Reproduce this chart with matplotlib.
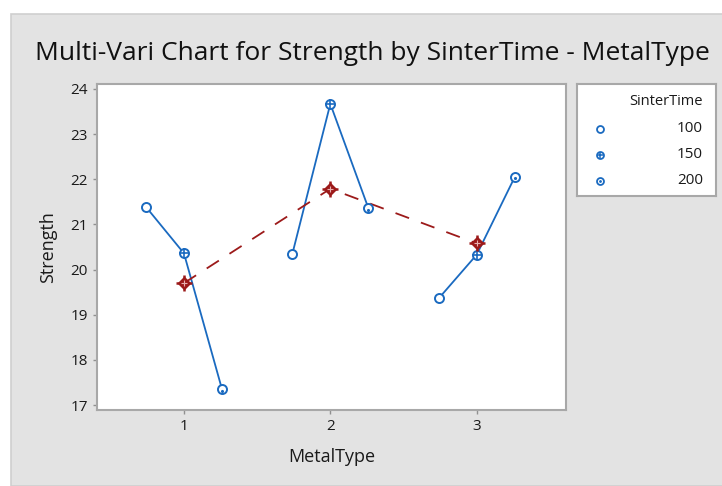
import matplotlib.pyplot as plt
from matplotlib.patches import Rectangle

# --- data ---
metal_types = [1, 2, 3]
sinter_times = [100, 150, 200]
strength = {
    100: [21.39, 20.34, 19.36],
    150: [20.36, 23.67, 20.33],
    200: [17.35, 21.36, 22.05],
}
offsets = [-0.26, 0.0, 0.26]
yticks = [17, 18, 19, 20, 21, 22, 23, 24]

blue = '#1a6ac0'
red = '#9c1a1a'
gray_bg = '#e3e3e3'
font = ['Open Sans', 'DejaVu Sans']

W, H = 722, 486
fig = plt.figure(figsize=(W / 100, H / 100), dpi=100, facecolor='white')

# gray panel
fig.patches.append(Rectangle((11 / W, 0), 1, 1 - 14 / H, transform=fig.transFigure,
                             facecolor=gray_bg, edgecolor='#cfcfcf', lw=1.2, zorder=-10))

def box(x0, y0, x1, y1):
    return [x0 / W, 1 - y1 / H, (x1 - x0) / W, (y1 - y0) / H]

ax = fig.add_axes(box(97, 84, 566, 410))
ax.set_zorder(2)
ax.set_facecolor('white')

means = []
for i, m in enumerate(metal_types):
    vals = [strength[s][i] for s in sinter_times]
    xs = [m + o for o in offsets]
    ax.plot(xs, vals, color=blue, lw=1.3, zorder=2)
    ax.plot(xs[0], vals[0], 'o', ms=6.5, mfc='white', mec=blue, mew=1.4, zorder=3)
    ax.plot(xs[1], vals[1], 'o', ms=6.5, mfc='white', mec=blue, mew=1.4, zorder=3)
    ax.plot(xs[1], vals[1], '+', ms=6.5, color=blue, mew=1.2, zorder=4)
    ax.plot(xs[2], vals[2], 'o', ms=6.5, mfc='white', mec=blue, mew=1.4, zorder=3)
    ax.plot(xs[2], vals[2] - 0.03, '.', ms=2.5, color=blue, zorder=4)
    means.append(sum(vals) / len(vals))

ax.plot(metal_types, means, color=red, lw=1.3, dashes=(8, 7), zorder=2)
ax.plot(metal_types, means, 'D', ms=6, mfc=red, mec=red, mew=1, zorder=5)
ax.plot(metal_types, means, '+', ms=11, color=red, mew=1.8, zorder=6)
ax.plot(metal_types, means, '+', ms=4, color='#e8b0b0', mew=0.8, zorder=7)

ax.set_xlim(0.406, 3.61)
ax.set_ylim(16.89, 24.11)
ax.set_xticks(metal_types)
ax.set_yticks(yticks)
ax.tick_params(axis='both', colors='#909090', length=3, width=1, labelsize=11,
               labelcolor='#1a1a1a')
for lab in ax.get_xticklabels() + ax.get_yticklabels():
    lab.set_family(font)
for sp in ax.spines.values():
    sp.set_color('#a8a8a8')
    sp.set_linewidth(1.5)

ax.set_xlabel('MetalType', fontsize=13, family=font, color='#1a1a1a', labelpad=10)
ax.set_ylabel('Strength', fontsize=13, family=font, color='#1a1a1a', labelpad=10)

fig.text(35 / W, 1 - 53 / H, 'Multi-Vari Chart for Strength by SinterTime - MetalType',
         fontsize=19, family=font, weight='medium', color='#111111', va='center', ha='left')

# legend
lax = fig.add_axes(box(577, 84, 716, 196))
lax.set_zorder(2)
lax.set_xlim(0, 139)
lax.set_ylim(112, 0)
lax.set_xticks([])
lax.set_yticks([])
for sp in lax.spines.values():
    sp.set_color('#a8a8a8')
    sp.set_linewidth(1.5)
lax.text(126, 18, 'SinterTime', ha='right', va='center', fontsize=10.5, family=font, color='#1a1a1a')
for k, s in enumerate(sinter_times):
    yy = 45 + k * 26
    lax.plot(23, yy, 'o', ms=5, mfc='white', mec=blue, mew=1.3)
    if k == 1:
        lax.plot(23, yy, '+', ms=5, color=blue, mew=1.1)
    if k == 2:
        lax.plot(23, yy, '.', ms=2, color=blue)
    lax.text(126, yy, str(s), ha='right', va='center', fontsize=11, family=font, color='#1a1a1a')

fig.savefig('out.png', dpi=100, facecolor='white')
